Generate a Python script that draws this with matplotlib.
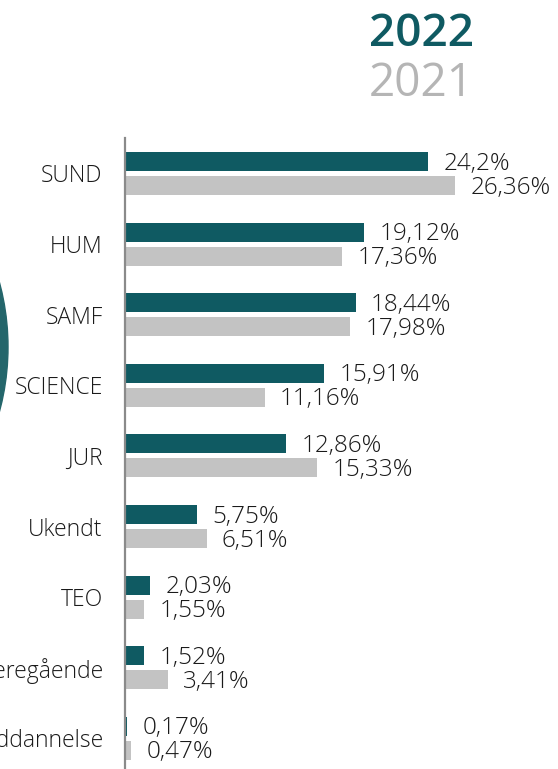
import matplotlib
matplotlib.use("Agg")
import matplotlib.pyplot as plt
from matplotlib.patches import Circle
import numpy as np

categories = ["SUND", "HUM", "SAMF", "SCIENCE", "JUR", "Ukendt", "TEO",
              "Videregående", "Anden uddannelse"]
values_2022 = [24.2, 19.12, 18.44, 15.91, 12.86, 5.75, 2.03, 1.52, 0.17]
values_2021 = [26.36, 17.36, 17.98, 11.16, 15.33, 6.51, 1.55, 3.41, 0.47]
labels_2022 = ["24,2%", "19,12%", "18,44%", "15,91%", "12,86%", "5,75%", "2,03%", "1,52%", "0,17%"]
labels_2021 = ["26,36%", "17,36%", "17,98%", "11,16%", "15,33%", "6,51%", "1,55%", "3,41%", "0,47%"]

teal = "#0f5a62"
grey = "#c3c3c3"
plt.rcParams["font.family"] = ["Open Sans", "DejaVu Sans"]

W, H = 558, 769
fig = plt.figure(figsize=(W / 100, H / 100), dpi=100)

# axes: from the vertical line at x=125 to the right edge, y 138..769
ax = fig.add_axes([125 / W, 0, 1 - 125 / W, (769 - 138) / H])
px_per_pct = 12.52
ax.set_xlim(0, (W - 125) / px_per_pct)
pitch = 70.6
ax.set_ylim((769 - 173.5) / pitch, (138 - 173.5) / pitch)

y = np.arange(len(categories))
h = 19 / pitch
off = 12 / pitch
ax.barh(y - off, values_2022, height=h, color=teal)
ax.barh(y + off, values_2021, height=h, color=grey)

for i in range(len(categories)):
    ax.annotate(labels_2022[i], (values_2022[i], y[i] - off), xytext=(11, -1.5),
                textcoords="offset points", va="center", ha="left",
                fontsize=17.5, color="#1a1a1a", fontweight="light")
    ax.annotate(labels_2021[i], (values_2021[i], y[i] + off), xytext=(11, -1.5),
                textcoords="offset points", va="center", ha="left",
                fontsize=17.5, color="#1a1a1a", fontweight="light")

ax.set_yticks(y)
ax.set_yticklabels(categories, fontsize=16.5, color="#1a1a1a", fontweight="light")
ax.tick_params(axis="y", length=0, pad=16)
ax.set_xticks([])
for s in ["top", "right", "bottom"]:
    ax.spines[s].set_visible(False)
ax.spines["left"].set_color("#8a8a8a")
ax.spines["left"].set_linewidth(1.6)

# teal disc peeking in from the left edge
bg = fig.add_axes([0, 0, 1, 1], zorder=-1)
bg.set_xlim(0, W)
bg.set_ylim(H, 0)
bg.axis("off")
bg.add_patch(Circle((-240, 347), 248, color="#24666b"))

fig.text(369 / W, 1 - 34 / H, "2022", fontsize=33, fontweight="semibold",
         color=teal, va="center", ha="left")
fig.text(369 / W, 1 - 84 / H, "2021", fontsize=33, color="#b5b5b5",
         va="center", ha="left")

fig.savefig("out.png", dpi=100)
